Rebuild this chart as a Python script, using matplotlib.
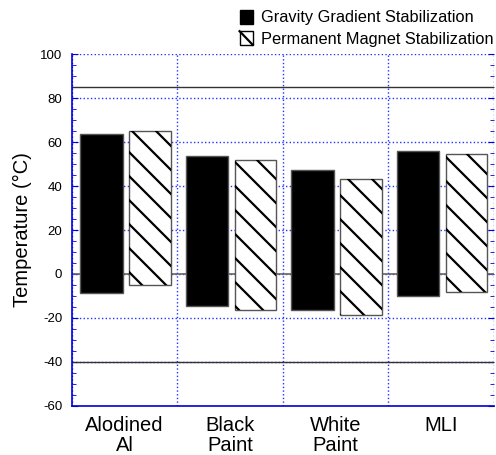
import numpy as np
import matplotlib
matplotlib.use('Agg')
import matplotlib.pyplot as plt
from matplotlib.patches import Patch, Rectangle
from matplotlib.lines import Line2D
from matplotlib.legend_handler import HandlerPatch
from matplotlib.transforms import IdentityTransform

plt.rcParams['font.family'] = ['Liberation Sans', 'DejaVu Sans']
plt.rcParams['axes.unicode_minus'] = False

categories = ['Alodined\nAl', 'Black\nPaint', 'White\nPaint', 'MLI']
gg_max = [63.5, 53.5, 47.5, 56]    # gravity gradient
gg_min = [-8.5, -14.5, -16.5, -10]
pm_max = [65, 52, 43, 54.5]        # permanent magnet
pm_min = [-5, -16.5, -18.5, -8]
upper_limit = 85
lower_limit = -40
labels = ['Gravity Gradient Stabilization', 'Permanent Magnet Stabilization']

BLUE = '#0000dd'
GRID = '#2233ff'

fig = plt.figure(figsize=(4.96, 4.55), dpi=100)
ax = fig.add_axes([0.145, 0.108, 0.851, 0.773])

x = np.arange(len(categories))
ax.set_xlim(0, len(categories))
ax.set_ylim(-60, 100)

ax.bar(x + 0.28, np.array(gg_max) - np.array(gg_min), bottom=gg_min, width=0.405,
       color='black', edgecolor='#555555', linewidth=1, zorder=3)
pm_bars = ax.bar(x + 0.74, np.array(pm_max) - np.array(pm_min), bottom=pm_min, width=0.395,
                 color='white', edgecolor='#555555', linewidth=1, zorder=3)

ax.axhline(upper_limit, color='#333333', lw=1, zorder=2)
ax.axhline(lower_limit, color='#333333', lw=1, zorder=2)
ax.axhline(0, color='#666666', lw=1.2, zorder=2)

# wide diagonal hatching drawn in pixel space, clipped to each bar
def hatch_bar(rect, spacing=24, lw=1.6):
    (x0, y0), (x1, y1) = ax.transData.transform(
        [[rect.get_x(), rect.get_y()],
         [rect.get_x() + rect.get_width(), rect.get_y() + rect.get_height()]])
    c = np.arange(np.floor((x0 + y0) / spacing) * spacing, x1 + y1 + spacing, spacing)
    for ci in c:
        xs = np.array([x0 - 5, x1 + 5])
        ln = Line2D(xs, ci - xs, color='black', lw=lw, transform=IdentityTransform(),
                    zorder=3.5)
        ax.add_artist(ln)
        ln.set_clip_path(rect)

for r in pm_bars:
    hatch_bar(r)

ax.set_axisbelow(True)
ax.set_yticks(np.arange(-60, 101, 20))
ax.set_yticks(np.arange(-60, 101, 5), minor=True)
ax.set_xticks(x + 0.5)
ax.set_xticklabels(categories, fontsize=14.5, linespacing=1.12)
ax.set_xticks(np.arange(0, len(categories) + 1), minor=True)
ax.tick_params(axis='x', which='both', length=0, pad=7)
ax.tick_params(axis='y', which='both', direction='in', left=True, right=True,
               color=BLUE, labelsize=9.5, pad=7)
ax.tick_params(axis='y', which='major', length=4)
ax.tick_params(axis='y', which='minor', length=3)

ax.grid(True, axis='y', which='major', color=GRID, linestyle=':', lw=1)
ax.grid(True, axis='x', which='minor', color=GRID, linestyle=':', lw=1)

for s in ['top', 'right']:
    ax.spines[s].set_visible(False)
for s in ['left', 'bottom']:
    ax.spines[s].set_color(BLUE)
    ax.spines[s].set_linewidth(1.2)

ax.set_ylabel('Temperature (\u00b0C)', fontsize=14.5, labelpad=6)


class HatchHandler(HandlerPatch):
    def create_artists(self, legend, orig_handle, xdescent, ydescent, width, height,
                       fontsize, trans):
        r = Rectangle((-xdescent, -ydescent), width, height, facecolor='white',
                      edgecolor='black', lw=1, transform=trans)
        ln = Line2D([-xdescent, -xdescent + width], [-ydescent + height, -ydescent],
                    color='black', lw=1.6, transform=trans)
        return [r, ln]


h_gg = Patch(facecolor='black', edgecolor='black')
h_pm = Patch(facecolor='white', edgecolor='black')
fig.legend([h_gg, h_pm], labels, handler_map={h_pm: HatchHandler()},
           loc='upper right', bbox_to_anchor=(0.995, 0.978), frameon=False,
           fontsize=11.8, handlelength=0.8, handleheight=0.9, handletextpad=0.5,
           labelspacing=0.35, borderpad=0, borderaxespad=0)

fig.savefig('out.png', dpi=100)
